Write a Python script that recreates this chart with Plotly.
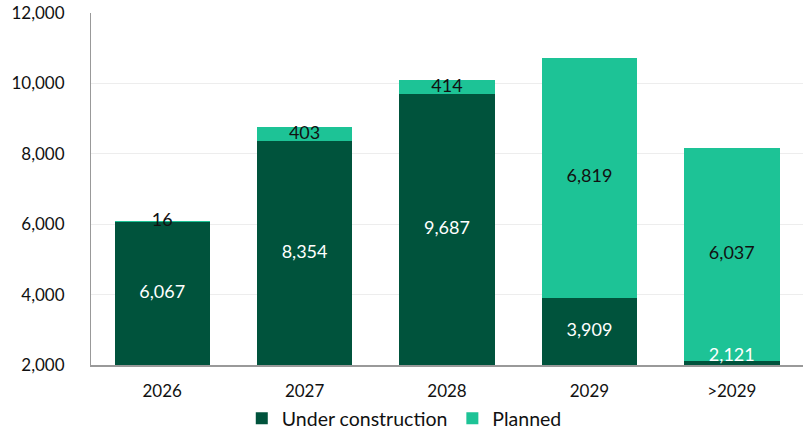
import plotly.graph_objects as go

categories = ["2026", "2027", "2028", "2029", ">2029"]
under_construction = [6067, 8354, 9687, 3909, 2121]
planned = [16, 403, 414, 6819, 6037]
y_min, y_max = 2000, 12000
y_ticks = [2000, 4000, 6000, 8000, 10000, 12000]

DARK = "#00533C"
LIGHT = "#1DC396"
FONT = "Lato"

fig = go.Figure()
fig.add_trace(go.Bar(x=categories, y=under_construction, name="Under construction",
                     marker=dict(color=DARK, line=dict(width=0)), hoverinfo="skip"))
fig.add_trace(go.Bar(x=categories, y=planned, name="Planned",
                     marker=dict(color=LIGHT, line=dict(width=0)), hoverinfo="skip"))

# label positions: middle of the visible part of each segment
min_visible = 600
uc_y, uc_pos = [], []
for v in under_construction:
    if v - y_min > min_visible:
        uc_y.append((v + y_min) / 2)
        uc_pos.append("middle center")
    else:
        uc_y.append(y_min)
        uc_pos.append("top center")
pl_y = [u + p / 2 for u, p in zip(under_construction, planned)]

fig.add_trace(go.Scatter(x=categories, y=uc_y, mode="text",
                         text=[f"{v:,}" for v in under_construction],
                         textposition=uc_pos,
                         textfont=dict(family=FONT, size=18, color="white"),
                         showlegend=False, hoverinfo="skip", cliponaxis=False))
fig.add_trace(go.Scatter(x=categories, y=pl_y, mode="text",
                         text=[f"{v:,}" for v in planned],
                         textposition="middle center",
                         textfont=dict(family=FONT, size=18, color="#111111"),
                         showlegend=False, hoverinfo="skip", cliponaxis=False))

fig.update_layout(
    barmode="stack", bargap=0.33,
    width=804, height=438,
    margin=dict(l=91, r=1, t=13, b=73, autoexpand=False),
    paper_bgcolor="white", plot_bgcolor="white",
    font=dict(family=FONT, size=17, color="#111111"),
    showlegend=True,
    legend=dict(orientation="h", x=0.44, xanchor="center", y=-0.097, yanchor="top",
                font=dict(family=FONT, size=19.5, color="#111111"),
                itemwidth=30, traceorder="normal", tracegroupgap=0),
    xaxis=dict(showgrid=False, showline=True, linecolor="#999999", linewidth=1.5,
               ticks="", ticklabelstandoff=10, automargin=False,
               tickfont=dict(family=FONT, size=17, color="#111111")),
    yaxis=dict(range=[y_min, y_max], tickvals=y_ticks, tickformat=",",
               showgrid=True, gridcolor="#EDEDED", gridwidth=1,
               showline=True, linecolor="#999999", linewidth=1,
               ticks="", ticklen=0, zeroline=False, automargin=False,
               ticklabelstandoff=22,
               tickfont=dict(family=FONT, size=17, color="#111111")),
)

fig.write_html("out.html", config={"displayModeBar": False},
               post_script="document.body.style.margin='0';document.body.style.overflow='hidden';")
